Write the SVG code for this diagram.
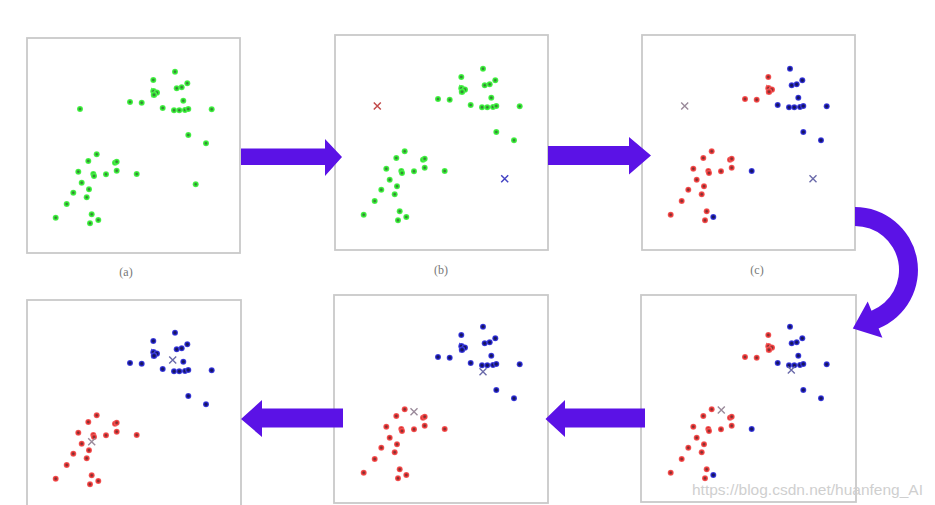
<svg xmlns="http://www.w3.org/2000/svg" xmlns:xlink="http://www.w3.org/1999/xlink" width="935" height="505" viewBox="0 0 935 505">
<style>
.panel{fill:#ffffff;stroke:#c9c9c9;stroke-width:1.8}
.arrow{fill:#5b12e6}
.lbl{font-family:"Liberation Serif",serif;font-size:12px;fill:#777;text-anchor:middle}
.xr{stroke:#c24a4a;stroke-width:1.5;fill:none}
.xb{stroke:#4444c4;stroke-width:1.5;fill:none}
.xp{stroke:#9a8a9a;stroke-width:1.4;fill:none}
.xpb{stroke:#6a6aaa;stroke-width:1.4;fill:none}
.wm{font-family:"Liberation Sans",Arial,sans-serif;font-size:15.5px;fill:#cfcfcf}
</style>
<defs>
<radialGradient id="gG"><stop offset="0" stop-color="#3a7a3a"/><stop offset="0.3" stop-color="#3a8a3a"/><stop offset="0.55" stop-color="#2ee62e"/><stop offset="1" stop-color="#5af05a"/></radialGradient>
<radialGradient id="gR"><stop offset="0" stop-color="#7a3030"/><stop offset="0.3" stop-color="#8a3434"/><stop offset="0.55" stop-color="#e83232"/><stop offset="1" stop-color="#f46a6a"/></radialGradient>
<radialGradient id="gB"><stop offset="0" stop-color="#141450"/><stop offset="0.4" stop-color="#18186a"/><stop offset="0.65" stop-color="#2424c8"/><stop offset="1" stop-color="#5050e0"/></radialGradient>
<path id="cross" d="M-3.5-3.5L3.5 3.5M-3.5 3.5L3.5-3.5"/>
<g id="U">
<circle cx="148" cy="33.7" r="3"/><circle cx="149.7" cy="50.3" r="3"/><circle cx="154.7" cy="49.3" r="3"/><circle cx="160.3" cy="45.3" r="3"/><circle cx="156.3" cy="62.7" r="3"/><circle cx="135.7" cy="70" r="3"/><circle cx="147" cy="72.3" r="3"/><circle cx="152.3" cy="72.3" r="3"/><circle cx="158" cy="72" r="3"/><circle cx="161.3" cy="71" r="3"/><circle cx="184.7" cy="71.3" r="3"/><circle cx="161.3" cy="97" r="3"/><circle cx="179" cy="105.3" r="3"/>
</g>
<g id="UR">
<circle cx="126.3" cy="42" r="3"/><polygon points="124,49.5 133,54.8 124.5,59.5"/><circle cx="126.5" cy="53.3" r="3.2"/><circle cx="129.8" cy="54.6" r="3.2"/><circle cx="127" cy="56.8" r="3.2"/><circle cx="103" cy="64" r="3"/><circle cx="114.7" cy="64.7" r="3"/>
</g>
<g id="L">
<circle cx="69.7" cy="116.3" r="3"/><circle cx="61.3" cy="123" r="3"/><circle cx="88" cy="124.7" r="3"/><circle cx="89.7" cy="123.7" r="3"/><circle cx="51.3" cy="133.7" r="3"/><circle cx="66.3" cy="136" r="3"/><circle cx="67" cy="138" r="3"/><circle cx="79" cy="136.3" r="3"/><circle cx="89.7" cy="132.7" r="3"/><circle cx="54.7" cy="144.7" r="3"/><circle cx="62" cy="151.3" r="3"/><circle cx="46.3" cy="154.7" r="3"/><circle cx="59.7" cy="159.3" r="3"/><circle cx="39.7" cy="166" r="3"/><circle cx="28.7" cy="179.7" r="3"/><circle cx="64.7" cy="176.3" r="3"/><circle cx="63" cy="185.3" r="3"/>
</g>
<g id="LB">
<circle cx="109.7" cy="136" r="3"/><circle cx="71.3" cy="182" r="3"/>
</g>
</defs>
<rect width="935" height="505" fill="#ffffff"/>

<g id="panel-a">
<rect class="panel" x="27" y="38" width="213" height="215"/>
<g transform="translate(27,38)" fill="url(#gG)">
<use xlink:href="#U"/><use xlink:href="#UR"/><use xlink:href="#L"/><use xlink:href="#LB"/>
<circle cx="53" cy="71" r="3"/><circle cx="168.7" cy="146.3" r="3"/>
</g>
<text class="lbl" x="126" y="276">(a)</text>
</g>

<g id="panel-b">
<rect class="panel" x="335" y="35" width="213" height="215"/>
<g transform="translate(335,35)" fill="url(#gG)">
<use xlink:href="#U"/><use xlink:href="#UR"/><use xlink:href="#L"/><use xlink:href="#LB"/>
<use xlink:href="#cross" class="xr" x="42.3" y="71"/>
<use xlink:href="#cross" class="xb" x="169.7" y="143.7"/>
</g>
<text class="lbl" x="441" y="274">(b)</text>
</g>

<g id="panel-c">
<rect class="panel" x="642" y="35" width="213" height="215"/>
<g transform="translate(642,35)">
<use xlink:href="#U" fill="url(#gB)"/><use xlink:href="#UR" fill="url(#gR)"/><use xlink:href="#L" fill="url(#gR)"/><use xlink:href="#LB" fill="url(#gB)"/>
<use xlink:href="#cross" class="xp" x="42.7" y="71"/>
<use xlink:href="#cross" class="xpb" x="171" y="143.7"/>
</g>
<text class="lbl" x="757" y="274">(c)</text>
</g>

<g id="panel-d">
<rect class="panel" x="641" y="295" width="215" height="207"/>
<g transform="translate(642,293)">
<use xlink:href="#U" fill="url(#gB)"/><use xlink:href="#UR" fill="url(#gR)"/><use xlink:href="#L" fill="url(#gR)"/><use xlink:href="#LB" fill="url(#gB)"/>
<use xlink:href="#cross" class="xp" x="79.3" y="117"/>
<use xlink:href="#cross" class="xpb" x="149.3" y="77"/>
</g>
</g>

<g id="panel-e">
<rect class="panel" x="334" y="295" width="214" height="208"/>
<g transform="translate(335,293)">
<use xlink:href="#U" fill="url(#gB)"/><use xlink:href="#UR" fill="url(#gB)"/><use xlink:href="#L" fill="url(#gR)"/><use xlink:href="#LB" fill="url(#gR)"/>
<use xlink:href="#cross" class="xp" x="79" y="118.7"/>
<use xlink:href="#cross" class="xpb" x="148" y="78.7"/>
</g>
</g>

<g id="panel-f">
<rect class="panel" x="27" y="300" width="214" height="210"/>
<g transform="translate(27,299)">
<use xlink:href="#U" fill="url(#gB)"/><use xlink:href="#UR" fill="url(#gB)"/><use xlink:href="#L" fill="url(#gR)"/><use xlink:href="#LB" fill="url(#gR)"/>
<use xlink:href="#cross" class="xp" x="64.7" y="142.7"/>
<use xlink:href="#cross" class="xpb" x="145.7" y="61"/>
</g>
</g>

<g id="connectors">
<polygon class="arrow" points="241,148.5 325,148.5 325,139 342,157 325,176 325,165 241,165"/>
<polygon class="arrow" points="548,146 629,146 629,137 651,155.5 629,174.5 629,165 548,165"/>
<path class="arrow" d="M855 207 A63 63 0 0 1 878.6 328.4 L882.4 337.7 L852.8 328.6 L867.7 301.5 L871.5 310.8 A44 44 0 0 0 855 226 Z"/>
<polygon class="arrow" points="645,408.5 565,408.5 565,400 545.5,419 565,437 565,427.5 645,427.5"/>
<polygon class="arrow" points="343,408.5 262,408.5 262,400 241,419 262,437 262,427.5 343,427.5"/>
</g>

<text class="wm" x="692" y="495">https://blog.csdn.net/huanfeng_AI</text>
</svg>
